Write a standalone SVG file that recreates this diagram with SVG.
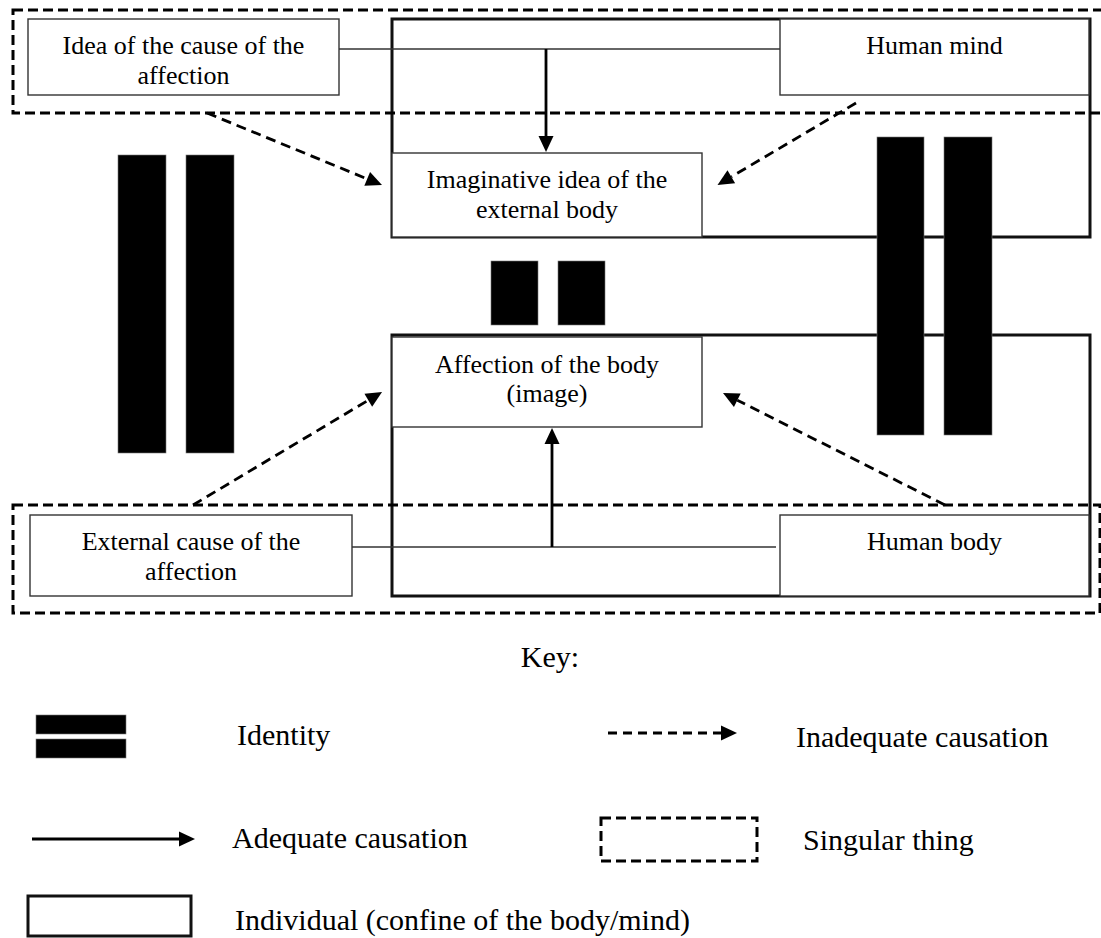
<svg xmlns="http://www.w3.org/2000/svg" width="1101" height="938" viewBox="0 0 1101 938">
  <style>
    text { font-family: "Liberation Serif", "Times New Roman", serif; fill: #000; }
    .lbl { font-size: 26px; text-anchor: middle; }
    .key { font-size: 30px; }
    .indiv { fill: none; stroke: #111; stroke-width: 3; }
    .node { fill: #fff; stroke: #333; stroke-width: 1.4; }
    .sing { fill: none; stroke: #000; stroke-width: 3; stroke-dasharray: 10 5; }
    .bar { fill: #000; stroke: #777; stroke-width: 0.6; }
    .thin { fill: none; stroke: #333; stroke-width: 1.4; }
    .solid { fill: none; stroke: #000; stroke-width: 2.8; marker-end: url(#ah); }
    .dash { fill: none; stroke: #000; stroke-width: 2.8; stroke-dasharray: 10 6; marker-end: url(#ah); }
  </style>
  <defs>
    <marker id="ah" markerUnits="userSpaceOnUse" markerWidth="18" markerHeight="18" refX="0" refY="7.5" orient="auto" overflow="visible">
      <path d="M0,0 L16,7.5 L0,15 Z" fill="#000" stroke="none"/>
    </marker>
  </defs>
  <rect width="1101" height="938" fill="#fff"/>

  <!-- Individuals (confine of mind / body) -->
  <g id="mind-individual"><rect class="indiv" x="392" y="19" width="698" height="218"/></g>
  <g id="body-individual"><rect class="indiv" x="392" y="335" width="698" height="261"/></g>

  <!-- Singular things -->
  <g id="singular-top"><rect class="sing" x="13" y="10" width="1092" height="103"/></g>
  <g id="singular-bottom"><rect class="sing" x="13" y="505" width="1087" height="108"/></g>

  <!-- Connectors -->
  <g id="connectors">
    <line class="thin" x1="339" y1="49" x2="780" y2="49"/>
    <line class="thin" x1="352" y1="547" x2="776" y2="547"/>
    <line class="solid" x1="546" y1="49" x2="546" y2="136"/>
    <line class="solid" x1="552" y1="547" x2="552" y2="444"/>
    <line class="dash" x1="207" y1="113" x2="367.2" y2="178.9"/>
    <line class="dash" x1="856" y1="103" x2="731.3" y2="176.8"/>
    <line class="dash" x1="193" y1="505" x2="368.3" y2="400.2"/>
    <line class="dash" x1="945" y1="505" x2="737.3" y2="400.2"/>
  </g>

  <!-- Nodes -->
  <g id="idea-cause">
    <rect class="node" x="28" y="19" width="311" height="76"/>
    <text class="lbl" x="183.5" y="54">Idea of the cause of the</text>
    <text class="lbl" x="183.5" y="84">affection</text>
  </g>
  <g id="human-mind">
    <rect class="node" x="780" y="19" width="309" height="76"/>
    <text class="lbl" x="934.5" y="54">Human mind</text>
  </g>
  <g id="imaginative-idea">
    <rect class="node" x="392" y="153" width="310" height="84"/>
    <text class="lbl" x="547" y="188">Imaginative idea of the</text>
    <text class="lbl" x="547" y="218">external body</text>
  </g>
  <g id="affection-body">
    <rect class="node" x="392" y="337" width="310" height="90"/>
    <text class="lbl" x="547" y="373">Affection of the body</text>
    <text class="lbl" x="547" y="402">(image)</text>
  </g>
  <g id="external-cause">
    <rect class="node" x="30" y="515" width="322" height="81"/>
    <text class="lbl" x="191" y="550">External cause of the</text>
    <text class="lbl" x="191" y="580">affection</text>
  </g>
  <g id="human-body">
    <rect class="node" x="780" y="515" width="309" height="81"/>
    <text class="lbl" x="934.5" y="550">Human body</text>
  </g>

  <!-- Identity bars -->
  <g id="identity-left">
    <rect class="bar" x="118" y="155" width="48" height="298"/>
    <rect class="bar" x="186" y="155" width="48" height="298"/>
  </g>
  <g id="identity-middle">
    <rect class="bar" x="491" y="261" width="47" height="64"/>
    <rect class="bar" x="558" y="261" width="47" height="64"/>
  </g>
  <g id="identity-right">
    <rect class="bar" x="877" y="137" width="47" height="298"/>
    <rect class="bar" x="944" y="137" width="48" height="298"/>
  </g>

  <!-- Key -->
  <g id="key">
    <text class="key" x="550" y="667" text-anchor="middle">Key:</text>
    <rect class="bar" x="36" y="715" width="90" height="19"/>
    <rect class="bar" x="36" y="739" width="90" height="19"/>
    <text class="key" x="237" y="745">Identity</text>
    <line class="dash" x1="608" y1="733" x2="721" y2="733" style="stroke-dasharray: 9 6"/>
    <text class="key" x="796" y="747">Inadequate causation</text>
    <line class="solid" x1="32" y1="839" x2="179" y2="839"/>
    <text class="key" x="232" y="848">Adequate causation</text>
    <rect class="sing" x="601" y="818" width="156" height="43"/>
    <text class="key" x="803" y="850">Singular thing</text>
    <rect class="indiv" x="28" y="896" width="163" height="40"/>
    <text class="key" x="235" y="930">Individual (confine of the body/mind)</text>
  </g>
</svg>
